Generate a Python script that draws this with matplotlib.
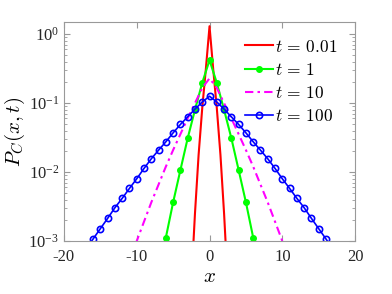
import numpy as np
import matplotlib
matplotlib.use('Agg')
import matplotlib.pyplot as plt

plt.rcParams['font.family'] = ['Liberation Serif', 'DejaVu Serif']
plt.rcParams['mathtext.fontset'] = 'cm'

# valores
x_red = [-2.5, -2, -1.5, -1, -0.5, 0, 0.5, 1, 1.5, 2, 2.5]
p_red = [0.00025, 0.0025, 0.0178, 0.085, 0.316, 1.306, 0.316, 0.085, 0.0178, 0.0025, 0.00025]

x_green = [-7, -6, -5, -4, -3, -2, -1, 0, 1, 2, 3, 4, 5, 6, 7]
p_green = [0.00035, 0.00112, 0.00364, 0.0107, 0.031, 0.08, 0.197, 0.42,
           0.197, 0.08, 0.031, 0.0107, 0.00364, 0.00112, 0.00035]

x_mag = [-11, -10, -9, -8, -7, -6, -5, -4, -3, -2, -1, 0,
         1, 2, 3, 4, 5, 6, 7, 8, 9, 10, 11]
p_mag = [0.0005, 0.001, 0.00191, 0.00363, 0.0066, 0.012, 0.0209, 0.0355, 0.0603, 0.1, 0.166, 0.229,
         0.166, 0.1, 0.0603, 0.0355, 0.0209, 0.012, 0.0066, 0.00363, 0.00191, 0.001, 0.0005]

p_blue_half = [0.126, 0.104, 0.0819, 0.0633, 0.0491, 0.0371, 0.0275, 0.0208, 0.0156,
               0.0113, 0.0080, 0.0058, 0.00416, 0.00304, 0.00213, 0.00151, 0.00107, 0.00075]
x_blue = list(range(-17, 18))
p_blue = p_blue_half[:0:-1] + p_blue_half

fig = plt.figure(figsize=(3.92, 2.94), dpi=100)
ax = fig.add_axes([0.163, 0.180, 0.743, 0.745])

ax.plot(x_red, p_red, color='red', lw=1.5, label=r'$t\,=\,0.01$')
ax.plot(x_green, p_green, color='#00ff00', lw=1.5, marker='o', ms=4,
        label=r'$t\,=\,1$')
ax.plot(x_mag, p_mag, color='magenta', lw=1.5, ls=(0, (4, 2, 1.2, 2)),
        label=r'$t\,=\,10$')
ax.plot(x_blue, p_blue, color='blue', lw=1.2, marker='o', ms=4.5, mfc='none',
        mew=1.2, label=r'$t\,=\,100$')

ax.set_yscale('log')
ax.set_xlim(-20, 20)
ax.set_ylim(1e-3, 1.5)
ax.set_xticks([-20, -10, 0, 10, 20])
ax.set_xticklabels(['-20', '-10', '0', '10', '20'])

for s in ax.spines.values():
    s.set_color('#999999')
ax.tick_params(which='both', direction='in', top=True, right=True,
               colors='#999999', labelcolor='#262626', labelsize=12)
ax.tick_params(which='major', length=4)
ax.tick_params(which='minor', length=2)
ax.tick_params(axis='x', pad=6)
ax.minorticks_on()
ax.xaxis.set_minor_locator(matplotlib.ticker.NullLocator())

ax.set_xlabel(r'$x$', fontsize=15, labelpad=2)
ax.set_ylabel(r'$P_C(x,t)$', fontsize=15, labelpad=1)

ax.legend(loc='upper right', frameon=False, fontsize=12.5, handlelength=1.6,
          handletextpad=0.15, labelspacing=0.4, borderaxespad=0.6,
          bbox_to_anchor=(1.0, 1.0))

plt.savefig('out.png', dpi=100)
plt.close()
